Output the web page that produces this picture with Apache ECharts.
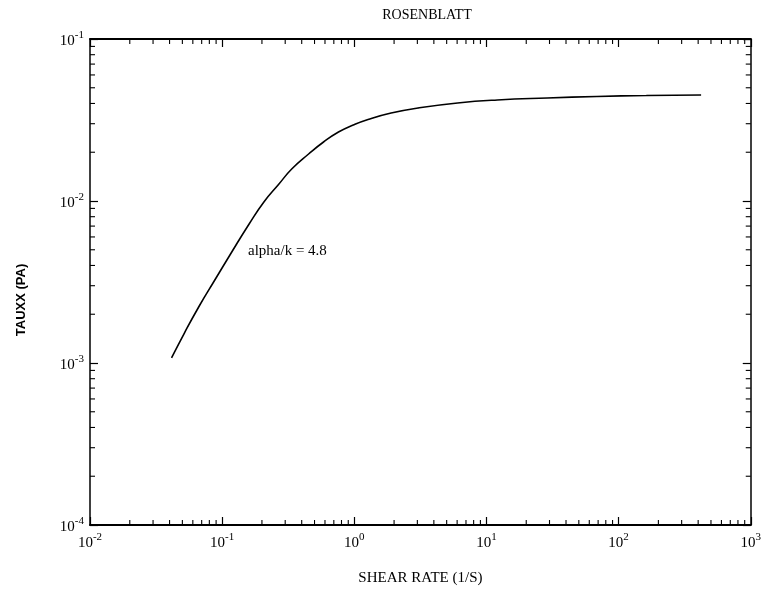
<!DOCTYPE html>
<html>
<head>
<meta charset="utf-8">
<script src="https://cdn.jsdelivr.net/npm/echarts@6/dist/echarts.min.js"></script>
<style>
  html, body { margin: 0; padding: 0; background: #fff; }
  #chart { width: 764px; height: 594px; }
</style>
</head>
<body>
<div id="chart"></div>
<script>
// Shear rate (1/s) and normal stress TAUXX (Pa) for the Rosenblatt model
const shearRate = [0.0414, 0.0518, 0.0671, 0.0871, 0.117, 0.160, 0.207, 0.269, 0.336, 0.451, 0.585, 0.759, 0.982, 1.27, 1.90, 3.03, 6.05, 12.1, 28.8, 68.4, 162, 421];
const tauxx     = [0.001074, 0.001531, 0.002249, 0.003208, 0.004775, 0.007211, 0.009858, 0.01273, 0.01576, 0.01950, 0.02313, 0.02666, 0.02945, 0.03186, 0.03493, 0.03750, 0.04027, 0.04203, 0.04325, 0.04418, 0.04481, 0.04513];

const xRange = [0.01, 1000];
const yRange = [0.0001, 0.1];
const titleText = 'ROSENBLATT';
const xName = 'SHEAR RATE (1/S)';
const yName = 'TAUXX (PA)';
const noteText = 'alpha/k = 4.8';

// minor tick positions 2..9 x 10^k inside each decade
function minorTicks(lo, hi) {
  const out = [];
  for (let e = Math.round(Math.log10(lo)); e < Math.round(Math.log10(hi)); e++) {
    for (let m = 2; m <= 9; m++) out.push(m * Math.pow(10, e));
  }
  return out;
}
const xMinor = minorTicks(xRange[0], xRange[1]);
const yMinor = minorTicks(yRange[0], yRange[1]);

const serif = '"Liberation Serif", "DejaVu Serif", serif';

function powLabel(v) {
  const e = Math.round(Math.log10(v));
  return '{b|10}{s|' + e + '}';
}
const richLabel = {
  b: { fontFamily: serif, fontSize: 15, color: '#000', lineHeight: 20, verticalAlign: 'bottom' },
  s: { fontFamily: serif, fontSize: 11, color: '#000', lineHeight: 20, verticalAlign: 'bottom', padding: [0, 0, 8, 0] }
};

const chart = echarts.init(document.getElementById('chart'));

const axisLineStyle = { color: '#000', width: 2 };

chart.setOption({
  backgroundColor: '#fff',
  animation: false,
  title: {
    text: titleText,
    left: 422,
    textAlign: 'center',
    top: 3,
    textStyle: { fontFamily: serif, fontSize: 14, fontWeight: 'normal', color: '#000' }
  },
  grid: { left: 90, right: 9, top: 39, bottom: 69 },
  xAxis: [
    {
      type: 'log', logBase: 10, min: xRange[0], max: xRange[1],
      position: 'bottom',
      name: xName, nameLocation: 'middle', nameGap: 46,
      nameTextStyle: { fontFamily: serif, fontSize: 15, color: '#000' },
      axisLine: { lineStyle: axisLineStyle },
      axisTick: { inside: true, length: 8, lineStyle: { color: '#000', width: 1.2 } },
      axisLabel: { formatter: powLabel, rich: richLabel, margin: 6 },
      splitLine: { show: false }
    },
    {
      type: 'log', logBase: 10, min: xRange[0], max: xRange[1],
      position: 'top',
      axisLine: { lineStyle: axisLineStyle },
      axisTick: { inside: true, length: 8, lineStyle: { color: '#000', width: 1.2 } },
      axisLabel: { show: false },
      splitLine: { show: false }
    }
  ],
  yAxis: [
    {
      type: 'log', logBase: 10, min: yRange[0], max: yRange[1],
      position: 'left',
      name: yName, nameLocation: 'middle', nameGap: 62, nameRotate: 90,
      nameTextStyle: { fontFamily: '"Liberation Sans", Arial, sans-serif', fontSize: 13, fontWeight: 'bold', color: '#000', padding: [0, 0, 0, -36] },
      axisLine: { lineStyle: { color: '#000', width: 1.5 } },
      axisTick: { inside: true, length: 8, lineStyle: { color: '#000', width: 1.2 } },
      axisLabel: { formatter: powLabel, rich: richLabel, margin: 6 },
      splitLine: { show: false }
    },
    {
      type: 'log', logBase: 10, min: yRange[0], max: yRange[1],
      position: 'right',
      axisLine: { lineStyle: { color: '#000', width: 1.5 } },
      axisTick: { inside: true, length: 8, lineStyle: { color: '#000', width: 1.2 } },
      axisLabel: { show: false },
      splitLine: { show: false }
    }
  ],
  graphic: [
    {
      type: 'text', left: 248, top: 244,
      style: { text: noteText, font: '15px "Liberation Serif", serif', fill: '#000' }
    }
  ],
  series: [
    {
      type: 'line',
      xAxisIndex: 0, yAxisIndex: 0,
      data: shearRate.map((x, i) => [x, tauxx[i]]),
      showSymbol: false,
      smooth: true,
      lineStyle: { color: '#000', width: 1.6 },
      z: 5
    },
    {
      // minor ticks along bottom and top edges
      type: 'custom',
      xAxisIndex: 0, yAxisIndex: 0,
      data: xMinor.map(v => [v]),
      silent: true,
      renderItem: function (params, api) {
        const x = api.coord([api.value(0), yRange[0]])[0];
        const yb = api.coord([xRange[0], yRange[0]])[1];
        const yt = api.coord([xRange[0], yRange[1]])[1];
        const st = { stroke: '#000', lineWidth: 1.1 };
        return {
          type: 'group',
          children: [
            { type: 'line', shape: { x1: x, y1: yb, x2: x, y2: yb - 5 }, style: st },
            { type: 'line', shape: { x1: x, y1: yt, x2: x, y2: yt + 5 }, style: st }
          ]
        };
      }
    },
    {
      // minor ticks along left and right edges
      type: 'custom',
      xAxisIndex: 0, yAxisIndex: 0,
      data: yMinor.map(v => [v]),
      silent: true,
      renderItem: function (params, api) {
        const y = api.coord([xRange[0], api.value(0)])[1];
        const xl = api.coord([xRange[0], yRange[0]])[0];
        const xr = api.coord([xRange[1], yRange[0]])[0];
        const st = { stroke: '#000', lineWidth: 1.1 };
        return {
          type: 'group',
          children: [
            { type: 'line', shape: { x1: xl, y1: y, x2: xl + 5, y2: y }, style: st },
            { type: 'line', shape: { x1: xr, y1: y, x2: xr - 5, y2: y }, style: st }
          ]
        };
      },
      encode: { y: 0 }
    }
  ]
});
</script>
</body>
</html>
